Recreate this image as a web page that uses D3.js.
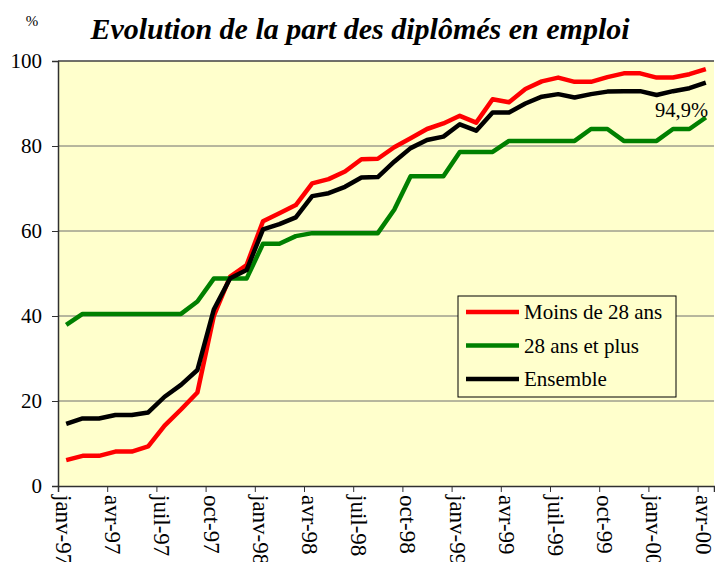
<!DOCTYPE html>
<html><head><meta charset="utf-8">
<script src="https://cdn.jsdelivr.net/npm/d3@7"></script>
<style>body{margin:0;background:#fff}svg{display:block}</style>
</head><body>
<svg id="c" width="715" height="562"></svg>
<script>
const months = ["janv-97","févr-97","mars-97","avr-97","mai-97","juin-97","juil-97","août-97","sept-97","oct-97","nov-97","déc-97",
"janv-98","févr-98","mars-98","avr-98","mai-98","juin-98","juil-98","août-98","sept-98","oct-98","nov-98","déc-98",
"janv-99","févr-99","mars-99","avr-99","mai-99","juin-99","juil-99","août-99","sept-99","oct-99","nov-99","déc-99",
"janv-00","févr-00","mars-00","avr-00"];
const tickLabels = ["janv-97","avr-97","juil-97","oct-97","janv-98","avr-98","juil-98","oct-98","janv-99","avr-99","juil-99","oct-99","janv-00","avr-00"];
const yTicks = [0,20,40,60,80,100];
const seriesNames = ["Moins de 28 ans","28 ans et plus","Ensemble"];
const moins28 = [6.1,7.1,7.1,8.1,8.1,9.3,14.2,18,22,40,49.3,52,62.3,64.2,66.1,71.2,72.2,74,76.9,77,79.7,81.8,84,85.3,87.1,85.5,91,90.3,93.4,95.2,96.1,95.1,95.1,96.2,97.1,97.1,96.1,96.1,96.9,98.1];
const plus28 = [37.9,40.5,40.5,40.5,40.5,40.5,40.5,40.5,43.4,48.8,48.8,48.8,57,57,58.8,59.5,59.5,59.5,59.5,59.5,65,72.9,72.9,72.9,78.6,78.6,78.6,81.2,81.2,81.2,81.2,81.2,84,84,81.2,81.2,81.2,84,84,86.7];
const ensemble = [14.6,15.9,15.9,16.7,16.7,17.3,21,23.8,27.3,41.5,48.9,50.8,60.4,61.6,63.2,68.2,68.9,70.4,72.6,72.7,76.3,79.5,81.4,82.2,85.1,83.6,87.9,87.9,90,91.6,92.2,91.4,92.2,92.8,92.9,92.9,92,92.9,93.6,94.9];
const annotation = "94,9%";

const colors = ["#ff0000","#008000","#000000"];
const series = [moins28, plus28, ensemble];

const svg = d3.select("#c");
const L = 58, R = 714, T = 61, B = 486;
const x = d3.scaleBand().domain(months).range([L, R]).padding(0);
const xi = d3.scaleLinear().domain([0, months.length]).range([L, R]);
const y = d3.scaleLinear().domain([0, 100]).range([B, T]);
const serif = "'Liberation Serif','Times New Roman',serif";

// plot background
svg.append("rect").attr("x", L).attr("y", T).attr("width", R - L).attr("height", B - T).attr("fill", "#ffffcc");

// gridlines
svg.append("g").selectAll("line").data(yTicks.filter(d => d > 0)).join("line")
  .attr("x1", L).attr("x2", R).attr("y1", d => y(d)).attr("y2", d => y(d))
  .attr("stroke", d => d === 100 ? "#404040" : "#6e6e6e").attr("stroke-width", d => d === 100 ? 1.5 : 1);

// y axis
const yAxis = svg.append("g").attr("transform", `translate(${L},0)`)
  .call(d3.axisLeft(y).tickValues(yTicks).tickSize(6).tickPadding(10));
yAxis.select(".domain").attr("stroke", "#303030").attr("stroke-width", 1.5);
yAxis.selectAll(".tick line").attr("stroke", "#303030");
yAxis.selectAll("text").attr("font-family", serif).attr("font-size", 21).attr("fill", "#000");

// x axis (ticks at quarter boundaries)
const tickIdx = tickLabels.map(l => months.indexOf(l));
const xAxis = svg.append("g").attr("transform", `translate(0,${B})`)
  .call(d3.axisBottom(xi).tickValues(tickIdx).tickSize(6).tickFormat(i => months[i]));
xAxis.select(".domain").attr("stroke", "#303030").attr("stroke-width", 1.5);
xAxis.selectAll(".tick line").attr("stroke", "#303030");
xAxis.selectAll("text")
  .attr("font-family", serif).attr("font-size", 23).attr("fill", "#000")
  .attr("text-anchor", "start").attr("dominant-baseline", "central")
  .attr("transform", "translate(5,0) rotate(90)")
  .attr("x", 9).attr("y", 0).attr("dy", null);

// lines
const line = d3.line().x((d, i) => x(months[i]) + x.bandwidth() / 2).y(d => y(d));
series.forEach((s, k) => {
  svg.append("path").datum(s).attr("d", line).attr("fill", "none")
    .attr("stroke", colors[k]).attr("stroke-width", 4.5).attr("stroke-linejoin", "round");
});

// annotation
svg.append("text").attr("x", 708).attr("y", 117).attr("text-anchor", "end")
  .attr("font-family", serif).attr("font-size", 20.5).attr("fill", "#000").text(annotation);

// legend
const lg = svg.append("g");
lg.append("rect").attr("x", 458).attr("y", 296).attr("width", 218).attr("height", 101)
  .attr("fill", "#ffffcc").attr("stroke", "#000").attr("stroke-width", 1);
seriesNames.forEach((n, k) => {
  const yy = 312 + k * 33.5;
  lg.append("line").attr("x1", 466).attr("x2", 519).attr("y1", yy).attr("y2", yy)
    .attr("stroke", colors[k]).attr("stroke-width", 4.5);
  lg.append("text").attr("x", 524).attr("y", yy).attr("dominant-baseline", "central")
    .attr("font-family", serif).attr("font-size", 21).attr("fill", "#000").text(n);
});

// title and unit
svg.append("text").attr("x", 360).attr("y", 39).attr("text-anchor", "middle")
  .attr("font-family", serif).attr("font-size", 30).attr("font-weight", "bold").attr("font-style", "italic")
  .text("Evolution de la part des diplômés en emploi");
svg.append("text").attr("x", 32).attr("y", 26).attr("text-anchor", "middle")
  .attr("font-family", serif).attr("font-size", 15).text("%");
</script>
</body></html>
